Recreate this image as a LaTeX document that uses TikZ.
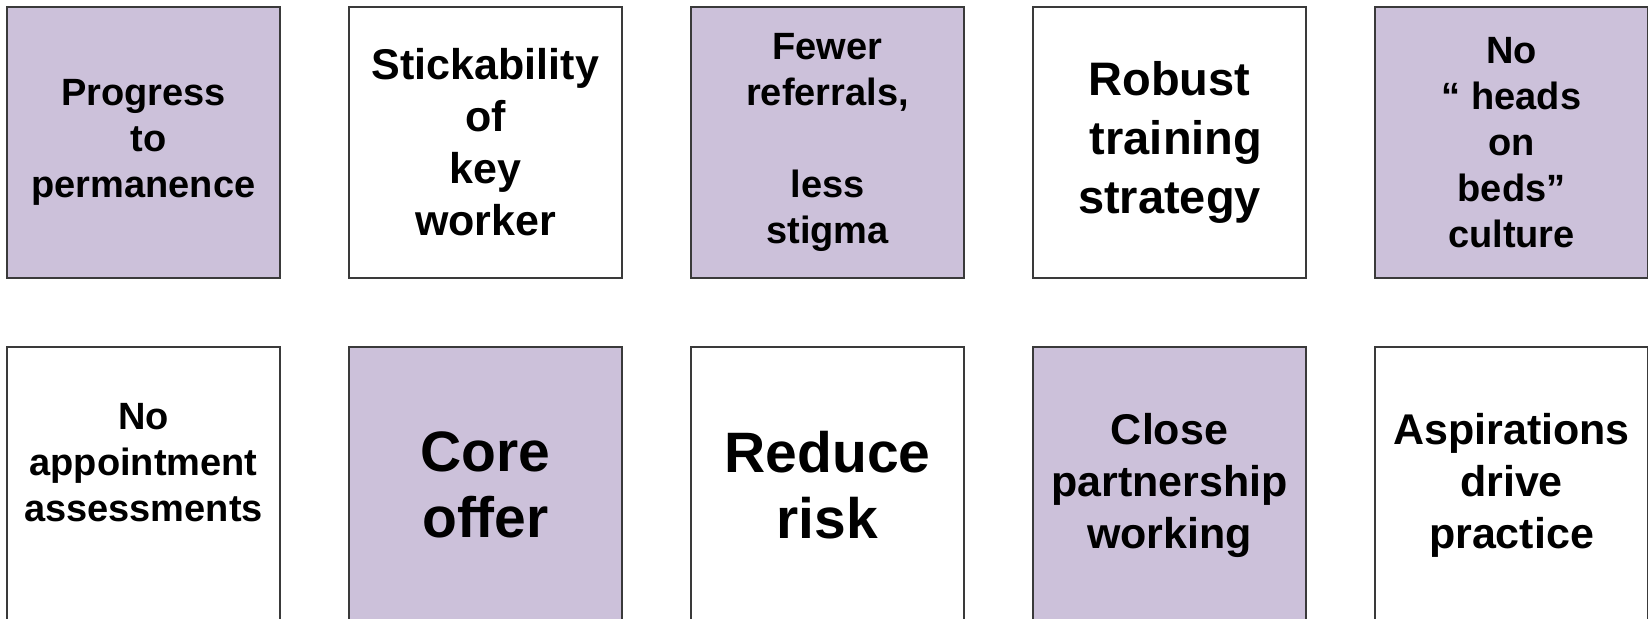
\documentclass[tikz,border=0pt]{standalone}
\usepackage{fontspec}
\setmainfont{Liberation Sans}
\usetikzlibrary{positioning}
\definecolor{lavender}{HTML}{CCC1DA}
\definecolor{edge}{HTML}{3A3A3A}
\tikzstyle{card} = [rectangle, draw=edge, line width=0.6pt, outer sep=0pt,
    inner sep=0pt, minimum width=136.5pt, minimum height=135.5pt, align=center]
\tikzstyle{shaded} = [card, fill=lavender]
\tikzstyle{plain} = [card, fill=white]
\tikzstyle{low} = [minimum height=138pt]
\tikzstyle{sizeA} = [font=\fontsize{19}{23}\selectfont\bfseries]
\tikzstyle{sizeB} = [font=\fontsize{21.5}{26}\selectfont\bfseries]
\tikzstyle{sizeC} = [font=\fontsize{23.5}{29.5}\selectfont\bfseries]
\tikzstyle{sizeD} = [font=\fontsize{28.5}{33}\selectfont\bfseries]
\newcommand{\leadsp}{\hspace*{.278em}}

\begin{document}
\begin{tikzpicture}
		\useasboundingbox (0,0) rectangle (824pt,-309.5pt);
		% Top row
		\node [shaded, sizeA, anchor=north west] (progress) at (3.5pt,-3.5pt) {Progress\\\leadsp to\\permanence};
		\node [plain, sizeB, right=34.5pt of progress] (keyworker) {Stickability\\of\\key\\worker};
		\node [shaded, sizeA, right=34.5pt of keyworker] (referrals) {Fewer\\referrals,\\[23pt]less\\stigma};
		\node [plain, sizeC, right=34.5pt of referrals] (training) {Robust\\\leadsp training\\strategy};
		\node [shaded, sizeA, right=34.5pt of training] (beds) {No\\“ heads\\on\\beds”\\culture};
		% Bottom row
		\node [plain, low, sizeA, below=34.5pt of progress] (appointment) {No\\appointment\\assessments\\\mbox{}};
		\node [shaded, low, sizeD, right=34.5pt of appointment] (core) {Core\\offer};
		\node [plain, low, sizeD, right=34.5pt of core] (risk) {Reduce\\risk};
		\node [shaded, low, sizeB, right=34.5pt of risk] (partnership) {Close\\partnership\\working};
		\node [plain, low, sizeB, right=34.5pt of partnership] (aspirations) {Aspirations\\drive\\practice};
	\end{tikzpicture}
\end{document}
